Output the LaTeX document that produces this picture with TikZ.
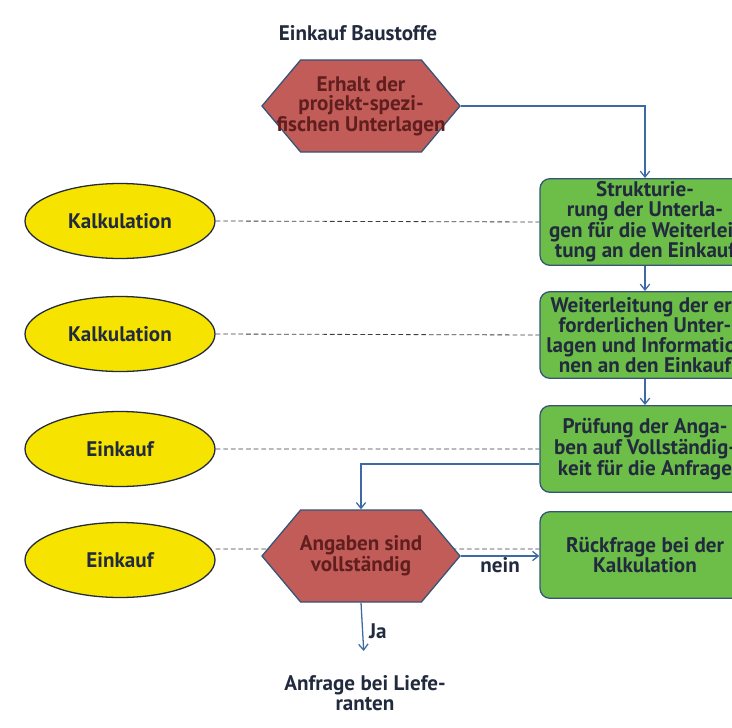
\documentclass[tikz,border=0pt]{standalone}
\usepackage{fontspec}
\setmainfont{PT Sans}
\usepackage{tikz}
\usetikzlibrary{shapes.geometric,shapes.symbols,arrows.meta,backgrounds}
\tikzset{every node/.style={align=center,inner sep=1pt,font=\fontsize{18}{16.5}\selectfont\bfseries}}
\tikzset{rolle/.style={ellipse,draw=tinte,fill=gelb,line width=1.1pt,minimum width=5.7cm,minimum height=2.25cm,text=tinte}}
\tikzset{schritt/.style={rectangle,rounded corners=0.3cm,draw=rand,fill=gruen,line width=1.1pt,minimum width=6.3cm,minimum height=2.6cm,text=tinte}}
\tikzset{sechseck/.style={signal,signal to=east and west,signal pointer angle=100,draw=rand,fill=rot,line width=1.1pt,inner xsep=-0.9cm,minimum width=5.94cm,minimum height=2.76cm,text=rottext}}
\tikzset{pfeil/.style={draw=blau,line width=1.1pt,-{Straight Barb[length=5pt,width=8pt]}}}
\tikzset{strich/.style={draw=grau,line width=0.7pt,dash pattern=on 4pt off 2.5pt}}
\newcommand{\rolle}[3]{\node[rolle] at (#1) (#2) {#3}}

\begin{document}
\begin{tikzpicture}[x=0.03cm,y=-0.03cm]
        \definecolor{gelb}{RGB}{246,228,0}
        \definecolor{tinte}{RGB}{34,42,62}
        \definecolor{gruen}{RGB}{108,190,72}
        \definecolor{rand}{RGB}{52,84,120}
        \definecolor{rot}{RGB}{194,92,88}
        \definecolor{rottext}{RGB}{96,30,30}
        \definecolor{blau}{RGB}{62,106,164}
        \definecolor{grau}{RGB}{60,60,70}
        \clip (0,0) rectangle (732,727);
        \node[text=tinte] at (358,33) (titel) {Einkauf Baustoffe};
        \node[sechseck] at (361,106) (erhalt) {Erhalt der\\projekt-spezi-\\fischen Unterlagen};

        % Ablauf rechts
        \node[schritt] at (645,222) (struktur) {Strukturie-\\rung der Unterla-\\gen für die Weiterlei-\\tung an den Einkauf};
        \node[schritt] at (645,335) (weiter) {Weiterleitung der er-\\forderlichen Unter-\\lagen und Informatio-\\nen an den Einkauf};
        \node[schritt] at (645,449) (pruefung) {Prüfung der Anga-\\ben auf Vollständig-\\keit für die Anfrage};
        \node[schritt] at (645,555) (rueck) {Rückfrage bei der\\Kalkulation};

        % Zuständigkeit links
        \rolle{120,221}{kalk1}{Kalkulation};
        \rolle{120,334}{kalk2}{Kalkulation};
        \rolle{120,449}{eink1}{Einkauf};
        \rolle{120,560}{eink2}{Einkauf};

        \node[sechseck] at (361,556) (vollst) {Angaben sind\\vollständig};
        \node[text=tinte] at (365,693) (anfrage) {Anfrage bei Liefe-\\ranten};

        \draw[pfeil] (erhalt.east) -| (struktur.north);
        \draw[pfeil] (struktur) -- (weiter);
        \draw[pfeil] (weiter) -- (pruefung);
        \draw[pfeil] ([yshift=-0.45cm]pruefung.west) -| (vollst.north);
        \draw[pfeil] (vollst.east) -- (vollst.east -| rueck.west)
            node[midway,below,text=tinte] {nein};
        \draw[pfeil,shorten >=0.7cm] (vollst.south) -- (anfrage.north)
            node[pos=0.4,right=4pt,text=tinte] {Ja};

        \begin{scope}[on background layer]
        \draw[strich]
        (kalk1.east) -- (struktur.west)
        (kalk2.east) -- (weiter.west)
        (eink1.east) -- (pruefung.west)
        ([yshift=0.33cm]eink2.east) -- ([yshift=0.33cm]eink2.east -| rueck.west);
        \end{scope}
    \end{tikzpicture}
\end{document}
